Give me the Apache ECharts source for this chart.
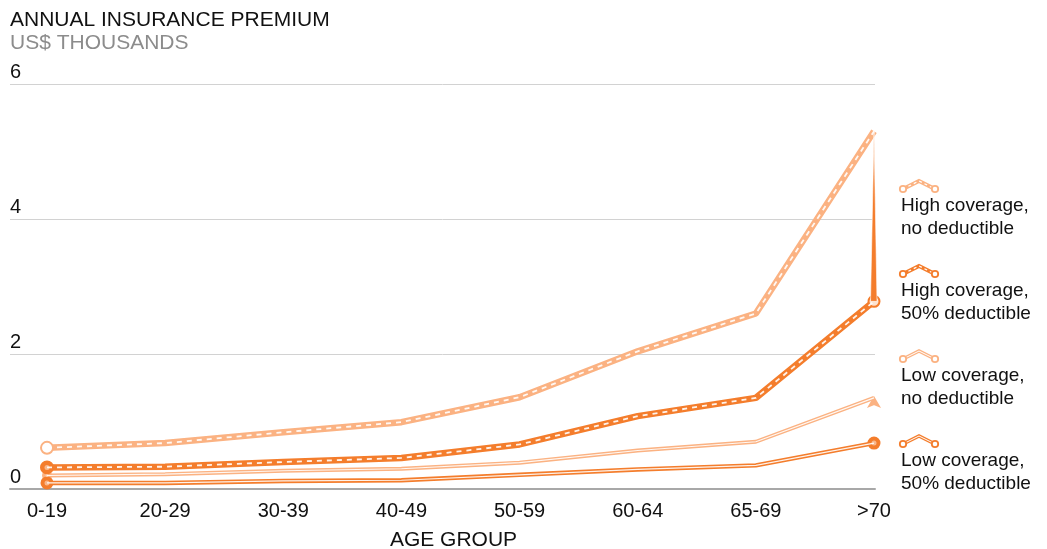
<!DOCTYPE html>
<html>
<head>
<meta charset="utf-8">
<script src="https://cdn.jsdelivr.net/npm/echarts@6/dist/echarts.min.js"></script>
<style>
  html, body { margin: 0; padding: 0; background: #fff; }
  #chart { width: 1047px; height: 549px; }
</style>
</head>
<body>
<div id="chart"></div>
<script>
// Annual insurance premium by age group, US$ thousands
const categories = ['0-19', '20-29', '30-39', '40-49', '50-59', '60-64', '65-69', '>70'];
const highNoDeductible = [0.61, 0.68, 0.84, 0.99, 1.36, 2.04, 2.60, 5.30];
const high50Deductible = [0.32, 0.33, 0.40, 0.46, 0.66, 1.08, 1.35, 2.78];
const lowNoDeductible = [0.20, 0.22, 0.27, 0.30, 0.39, 0.57, 0.70, 1.35];
const low50Deductible = [0.09, 0.09, 0.12, 0.13, 0.21, 0.29, 0.35, 0.68];
const yTicks = [0, 2, 4, 6];
const seriesNames = [
  'High coverage,\nno deductible',
  'High coverage,\n50% deductible',
  'Low coverage,\nno deductible',
  'Low coverage,\n50% deductible'
];

const FONT = "'Liberation Sans', Arial, sans-serif";
const LIGHT = '#fbb282';
const DARK = '#f47d2c';
const last = categories.length - 1;

const chart = echarts.init(document.getElementById('chart'));

// A line drawn as a thick coloured stroke with a thin white stroke running inside it
function doubleLine(name, data, color, width, innerWidth, innerType, ends) {
  const base = {
    name: name,
    type: 'line',
    xAxisIndex: 0,
    yAxisIndex: 0,
    data: data,
    color: color,
    lineStyle: { color: color, width: width },
    symbol: (v, p) => (ends[p.dataIndex] && ends[p.dataIndex].symbol) || 'circle',
    symbolSize: (v, p) => (ends[p.dataIndex] ? ends[p.dataIndex].size : 0),
    itemStyle: {
      color: (p) => (ends[p.dataIndex] && ends[p.dataIndex].fill) || color,
      borderColor: color,
      borderWidth: 2
    },
    showAllSymbol: true,
    animation: false,
    silent: true,
    z: 2
  };
  const inner = {
    name: name + ' inner',
    type: 'line',
    xAxisIndex: 0,
    yAxisIndex: 0,
    data: data,
    lineStyle: { color: '#ffffff', width: innerWidth, type: innerType, opacity: 0.9 },
    symbol: 'circle',
    symbolSize: (v, p) => (ends[p.dataIndex] && ends[p.dataIndex].dot ? ends[p.dataIndex].dot : 0),
    itemStyle: { color: 'rgba(255,255,255,0.45)', borderWidth: 0 },
    showAllSymbol: true,
    animation: false,
    silent: true,
    z: 3
  };
  return [base, inner];
}

const series = [].concat(
  doubleLine(seriesNames[2], lowNoDeductible, LIGHT, 4, 1.2, 'solid', {
    0: { size: 8, fill: LIGHT, dot: 3 },
    [last]: { size: [7, 8], symbol: 'arrow', fill: LIGHT }
  }),
  doubleLine(seriesNames[3], low50Deductible, DARK, 4.5, 1.2, 'solid', {
    0: { size: 11, fill: DARK, dot: 5 },
    [last]: { size: 11, fill: DARK, dot: 5 }
  }),
  doubleLine(seriesNames[0], highNoDeductible, LIGHT, 6.5, 1.8, [5, 5], {
    0: { size: 12, fill: '#ffffff' }
  }),
  doubleLine(seriesNames[1], high50Deductible, DARK, 6.5, 1.8, [5, 5], {
    0: { size: 12, fill: DARK, dot: 5 },
    [last]: { size: 11, fill: '#fde3d0' }
  })
);

// Narrow wedge joining the last two high-coverage points
series.push({
  type: 'custom',
  xAxisIndex: 0,
  yAxisIndex: 0,
  data: [[last, highNoDeductible[last], high50Deductible[last]]],
  renderItem: function (params, api) {
    const top = api.coord([api.value(0), api.value(1)]);
    const bot = api.coord([api.value(0), api.value(2)]);
    return {
      type: 'polygon',
      shape: { points: [[top[0], top[1]], [bot[0] - 3.5, bot[1]], [bot[0] + 3, bot[1]]] },
      style: { fill: DARK, stroke: '#fff', lineWidth: 0.6 }
    };
  },
  silent: true,
  animation: false,
  z: 4
});

// Legend: icon above a two-line label for each series
const legendStyles = [
  { color: LIGHT, width: 4, inner: 1.2, dash: [3, 3] },
  { color: DARK, width: 4, inner: 1.2, dash: [3, 3] },
  { color: LIGHT, width: 3.5, inner: 1, dash: null },
  { color: DARK, width: 3.5, inner: 1, dash: null }
];
const graphics = [];
seriesNames.forEach((name, i) => {
  const y0 = 189 + i * 85;
  const st = legendStyles[i];
  const pts = [[903, y0], [919, y0 - 8], [935, y0]];
  graphics.push({
    type: 'polyline', shape: { points: pts },
    style: { stroke: st.color, lineWidth: st.width, fill: null }, z: 10
  });
  graphics.push({
    type: 'polyline', shape: { points: pts },
    style: { stroke: '#fff', lineWidth: st.inner, lineDash: st.dash, fill: null }, z: 11
  });
  [pts[0], pts[2]].forEach(p => {
    graphics.push({
      type: 'circle', shape: { cx: p[0], cy: p[1], r: 3.2 },
      style: { fill: '#fff', stroke: st.color, lineWidth: 1.8 }, z: 12
    });
  });
  graphics.push({
    type: 'text', x: 901, y: y0 + 5,
    style: { text: name, font: '19px ' + FONT, fill: '#111', lineHeight: 23 }, z: 10
  });
});

chart.setOption({
  backgroundColor: '#ffffff',
  textStyle: { fontFamily: FONT },
  title: [
    { text: 'ANNUAL INSURANCE PREMIUM', left: 10, top: 10, padding: 0,
      textStyle: { fontSize: 21, fontWeight: 'normal', color: '#111', fontFamily: FONT } },
    { text: 'US$ THOUSANDS', left: 10, top: 33, padding: 0,
      textStyle: { fontSize: 21, fontWeight: 'normal', color: '#8c8c8c', fontFamily: FONT } }
  ],
  grid: [
    { left: 47, right: 173, top: 84, bottom: 60, outerBoundsMode: 'none', containLabel: false },
    { left: 10, right: 172, top: 84, bottom: 60, outerBoundsMode: 'none', containLabel: false }
  ],
  xAxis: [
    {
      type: 'category', gridIndex: 0, data: categories, boundaryGap: false,
      axisLine: { show: false }, axisTick: { show: false },
      axisLabel: { fontSize: 20, color: '#111', margin: 12, interval: 0, fontFamily: FONT },
      splitLine: { show: false }
    },
    {
      type: 'value', gridIndex: 1, min: 0, max: 1,
      axisLine: { show: true, lineStyle: { color: '#a8a8a8', width: 2 } },
      axisTick: { show: false }, axisLabel: { show: false }, splitLine: { show: false },
      name: 'AGE GROUP', nameLocation: 'middle', nameGap: 41,
      nameTextStyle: { fontSize: 21, color: '#111', padding: [0, 0, 0, 22], fontFamily: FONT }
    }
  ],
  yAxis: [
    { type: 'value', gridIndex: 0, min: 0, max: 6, show: false },
    {
      type: 'value', gridIndex: 1, min: yTicks[0], max: yTicks[yTicks.length - 1], interval: 2,
      axisLine: { show: false }, axisTick: { show: false },
      splitLine: { show: true, lineStyle: { color: '#d2d2d2', width: 1 } },
      axisLabel: {
        inside: true, margin: 0, verticalAlign: 'bottom', fontSize: 20, color: '#111',
        padding: [0, 0, 2, 0], fontFamily: FONT
      }
    }
  ],
  series: series,
  graphic: graphics
});
</script>
</body>
</html>
